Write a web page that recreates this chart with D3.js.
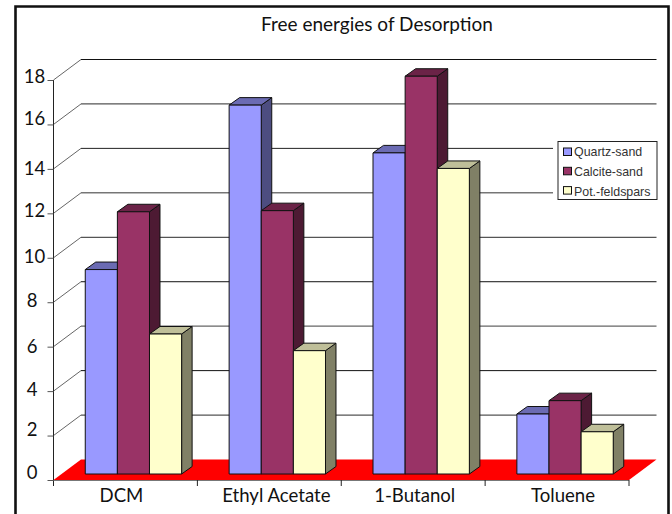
<!DOCTYPE html>
<html>
<head>
<meta charset="utf-8">
<script src="https://cdn.jsdelivr.net/npm/d3@7"></script>
<style>
  html, body { margin: 0; padding: 0; background: #fff; }
  svg { display: block; }
  text { fill: #111; }
</style>
</head>
<body>
<svg id="chart" width="672" height="514"></svg>
<script>
const categories = ["DCM", "Ethyl Acetate", "1-Butanol", "Toluene"];
const seriesNames = ["Quartz-sand", "Calcite-sand", "Pot.-feldspars"];
const quartzValues = [9.2, 16.6, 14.45, 2.7];
const calciteValues = [11.8, 11.85, 17.9, 3.3];
const feldsparValues = [6.3, 5.55, 13.75, 1.9];
const valueTicks = [0, 2, 4, 6, 8, 10, 12, 14, 16, 18];
const chartTitle = "Free energies of Desorption";

const faceColors = ["#9999ff", "#993366", "#ffffcc"];
const topColors = ["#6b6bb3", "#6b2347", "#bfbf99"];
const sideColors = ["#4d4d80", "#4d1a33", "#808066"];
const seriesValues = [quartzValues, calciteValues, feldsparValues];

const svg = d3.select("#chart");
const labelFont = "Lato, 'Open Sans', sans-serif";

// Oblique projection: the back wall sits up and to the right of the front plane.
const depth = { x: 27.5, y: -20.5 };
const frontLeft = 53.5, frontRight = 629;
const frontBase = 480, frontTop = 80;

const x = d3.scaleBand().domain(d3.range(categories.length)).range([frontLeft, frontRight]);
const y = d3.scaleLinear().domain([0, 18]).range([frontBase, frontTop]);

// Bars stand on a plane part of the way into the floor.
const barShift = { x: 8, y: -6 };
const barDepth = { x: 10.5, y: -7.5 };
const inner = d3.scaleBand().domain(d3.range(seriesNames.length))
  .range([0, x.bandwidth()]).paddingOuter(0.74).paddingInner(0);

// Outer frame, open at the foot of the page
svg.append("path")
  .attr("d", "M15.5,514V6.5H668.5V514")
  .attr("fill", "none").attr("stroke", "#111").attr("stroke-width", 2.6);

svg.append("text")
  .attr("x", 377).attr("y", 31)
  .attr("text-anchor", "middle")
  .attr("font-family", labelFont).attr("font-size", 19)
  .text(chartTitle);

// Floor
svg.append("polygon")
  .attr("points", [
    [frontLeft, frontBase],
    [frontLeft + depth.x, frontBase + depth.y],
    [frontRight + depth.x, frontBase + depth.y],
    [frontRight, frontBase]
  ].map(p => p.join(",")).join(" "))
  .attr("fill", "#ff0000");

// Gridlines across the back wall and down the left wall; alternate lines print heavier and greyer
const gridInk = { 18: ["#111", 1], 16: ["#555", 1.3], 14: ["#222", 1], 12: ["#333", 1], 10: ["#555", 1.3],
                  8: ["#111", 1], 6: ["#666", 1.4], 4: ["#111", 1], 2: ["#555", 1.2] };
const grid = svg.append("g").attr("fill", "none");
valueTicks.filter(v => v > 0).forEach(v => {
  grid.append("path")
    .attr("stroke", "#666").attr("stroke-width", 1)
    .attr("d", `M${frontLeft},${y(v)}L${frontLeft + depth.x},${y(v) + depth.y}`);
  grid.append("path")
    .attr("stroke", gridInk[v][0]).attr("stroke-width", gridInk[v][1])
    .attr("d", `M${frontLeft + depth.x},${y(v) + depth.y}H${frontRight + depth.x}`);
});

// Left and bottom axes
const axes = svg.append("g").attr("fill", "none").attr("stroke", "#222").attr("stroke-width", 1);
axes.append("path").attr("d", `M${frontLeft},${frontTop}V${frontBase + 6}`);
axes.append("path").attr("stroke", "#777").attr("stroke-width", 1.2)
  .attr("d", `M${frontLeft},${frontBase + 0.5}H${frontRight}`);
valueTicks.forEach(v => {
  axes.append("path").attr("stroke", "#555").attr("d", `M${frontLeft - 6},${y(v) + 0.5}H${frontLeft}`);
});
d3.range(1, categories.length + 1).forEach(i => {
  const tx = frontLeft + i * x.bandwidth();
  axes.append("path").attr("d", `M${tx},${frontBase}V${frontBase + 6}`);
});

// Value labels: two-digit and one-digit labels sit on separate centre lines
const valueLabelDrift = { 18: 3, 16: 0.6, 14: 6, 12: 3.5, 10: 5, 8: 5, 6: 6, 4: 5, 2: 0.7, 0: -1.2 };
svg.append("g").selectAll("text").data(valueTicks).join("text")
  .attr("x", d => d >= 10 ? 34.5 : 32)
  .attr("y", d => y(d) + valueLabelDrift[d])
  .attr("text-anchor", "middle")
  .attr("font-family", labelFont).attr("font-size", 18.5)
  .text(d => d);

// Category labels, each set slightly off its band centre
const categoryLabelDrift = [-4, 7, 1.5, 6];
svg.append("g").selectAll("text").data(categories).join("text")
  .attr("x", (d, i) => x(i) + x.bandwidth() / 2 + categoryLabelDrift[i])
  .attr("y", 502)
  .attr("text-anchor", "middle")
  .attr("font-family", labelFont).attr("font-size", 18.6)
  .text(d => d);

// 3D bars, drawn left to right so shared edges overlap correctly
const bars = svg.append("g").attr("stroke", "#111").attr("stroke-width", 1).attr("stroke-linejoin", "round");
categories.forEach((c, i) => {
  seriesNames.forEach((s, j) => {
    const v = seriesValues[j][i];
    const left = x(i) + inner(j) + barShift.x;
    const right = left + inner.bandwidth();
    const top = y(v) + barShift.y;
    const base = y(0) + barShift.y;
    const g = bars.append("g");
    g.append("polygon").attr("fill", sideColors[j]).attr("points", [
      [right, top], [right + barDepth.x, top + barDepth.y],
      [right + barDepth.x, base + barDepth.y], [right, base]
    ].map(p => p.join(",")).join(" "));
    g.append("polygon").attr("fill", topColors[j]).attr("points", [
      [left, top], [left + barDepth.x, top + barDepth.y],
      [right + barDepth.x, top + barDepth.y], [right, top]
    ].map(p => p.join(",")).join(" "));
    g.append("rect").attr("fill", faceColors[j])
      .attr("x", left).attr("y", top)
      .attr("width", right - left).attr("height", base - top);
  });
});

// Legend, with a white margin that clears the gridlines around it
const legend = svg.append("g");
legend.append("rect")
  .attr("x", 553).attr("y", 137).attr("width", 106).attr("height", 67)
  .attr("fill", "#fff");
legend.append("rect")
  .attr("x", 558).attr("y", 141.5).attr("width", 99).attr("height", 58)
  .attr("fill", "#fff").attr("stroke", "#222");
seriesNames.forEach((s, j) => {
  const swatchY = 151.5 + j * 19.3;
  legend.append("rect")
    .attr("x", 563.5).attr("y", swatchY - 3.5).attr("width", 8).attr("height", 7.5)
    .attr("fill", faceColors[j]).attr("stroke", "#111");
  legend.append("text")
    .attr("x", 574).attr("y", 155.5 + j * 20.2)
    .attr("font-family", "'Liberation Sans', Arial, sans-serif").attr("font-size", 12.4)
    .style("fill", "#333")
    .text(s);
});
</script>
</body>
</html>
